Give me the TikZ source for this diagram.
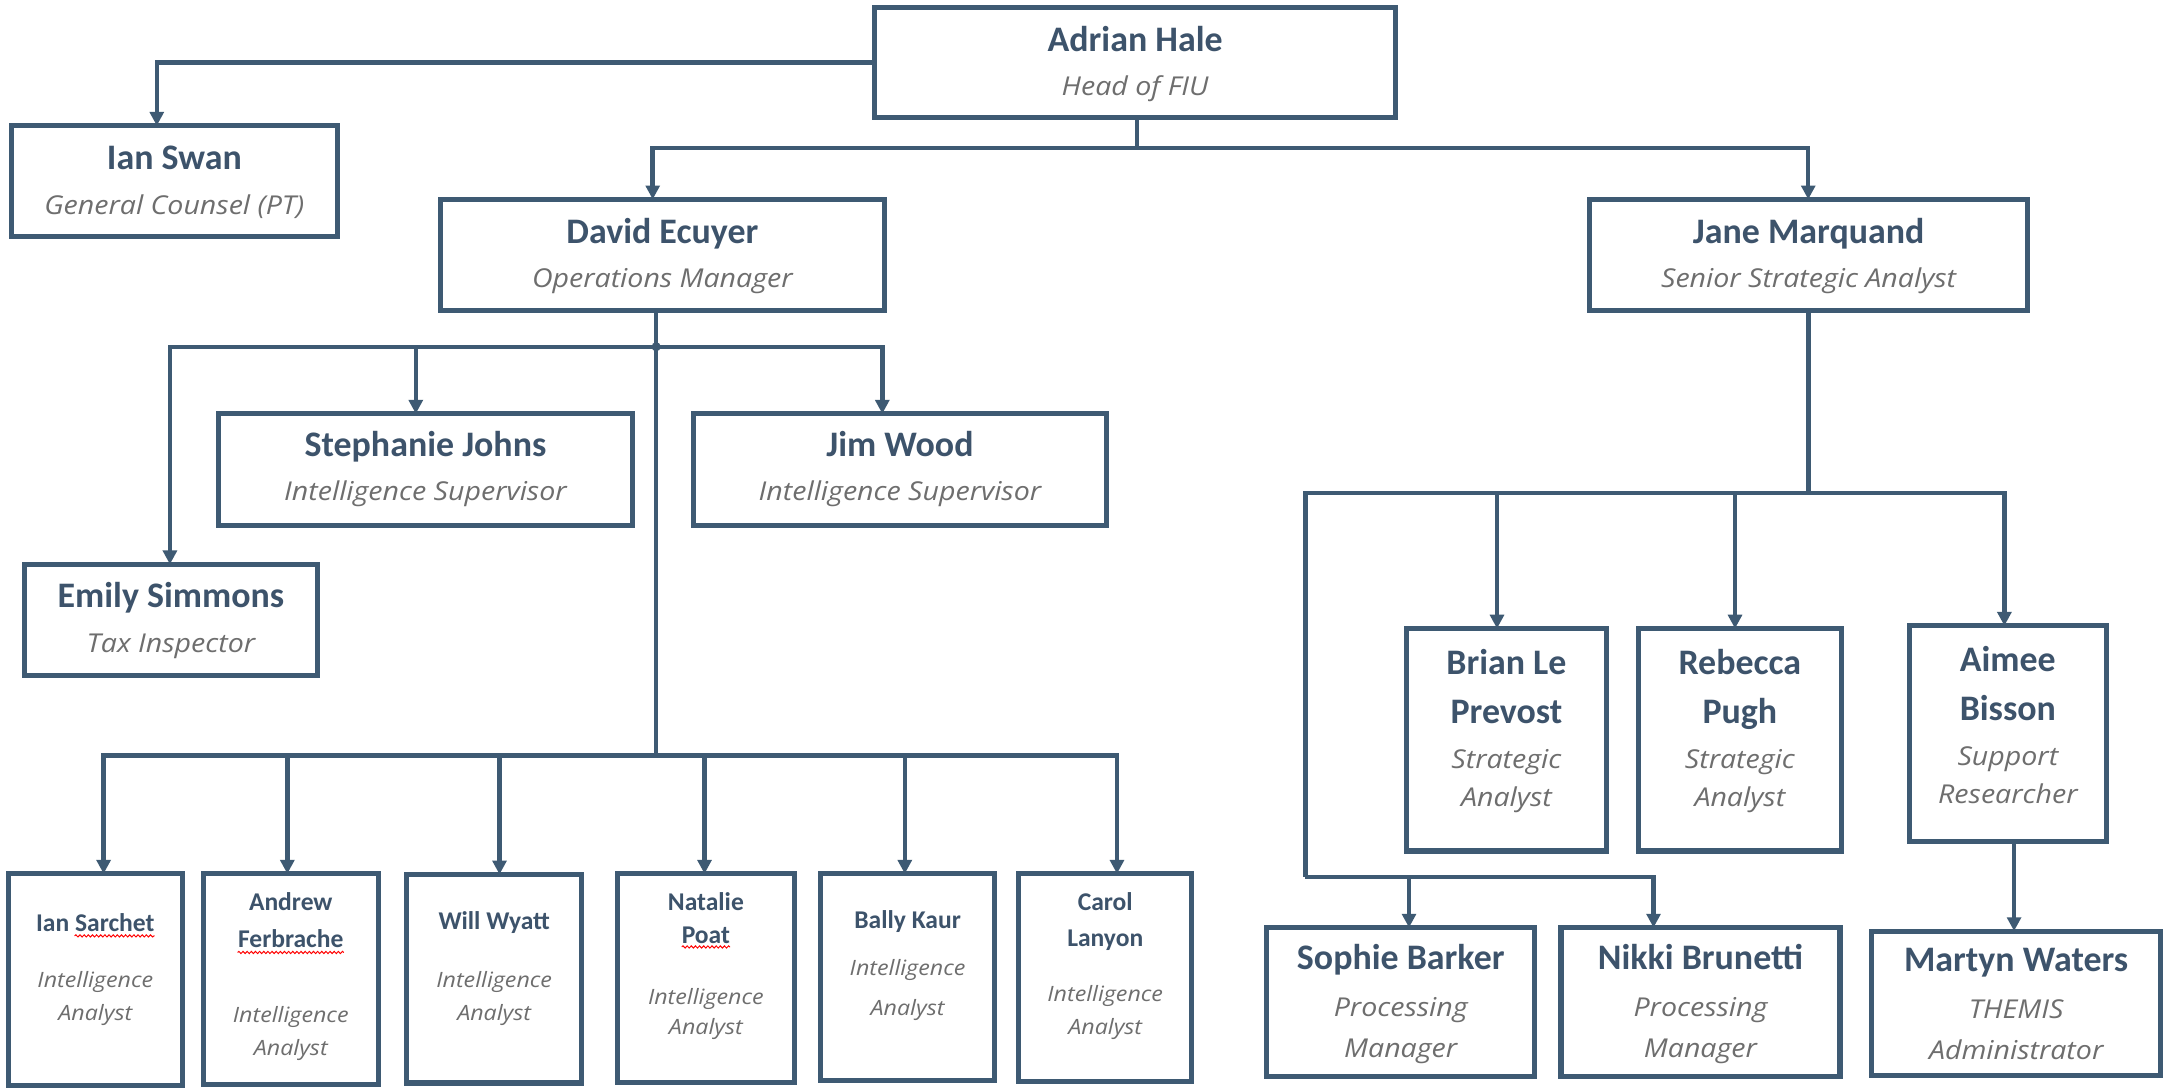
\documentclass[tikz,border=0pt]{standalone}
\usepackage{fontspec}
\usetikzlibrary{arrows.meta,decorations.pathmorphing}
\newfontfamily\nmfam{Carlito}
\newfontfamily\rlfam{Open Sans}[FakeStretch=1.1]
\definecolor{linec}{HTML}{3E5A73}
\definecolor{namec}{HTML}{3D536B}
\definecolor{rolec}{HTML}{6E6E6E}
\newcommand\nmB[1]{{\fontsize{26}{26}\selectfont\nmfam\bfseries\color{namec}#1}}
\newcommand\rlB[1]{{\fontsize{18.8}{18.8}\selectfont\rlfam\itshape\color{rolec}#1}}
\newcommand\nmS[1]{{\fontsize{18.5}{18.5}\selectfont\nmfam\bfseries\color{namec}#1}}
\newcommand\rlS[1]{{\fontsize{15.3}{15.3}\selectfont\rlfam\itshape\color{rolec}#1}}
\newcommand\stB{\rule{0pt}{24pt}}
\newcommand\stS{\rule{0pt}{17pt}}
\newcommand\obox[5]{\node[obox, minimum width={#4-#2}, minimum height={#5-#3}] (#1) at ({(#2+#4)/2},{(#3+#5)/2}) {};}
\tikzset{
  obox/.style={draw=linec, line width=3.7pt, fill=white, rectangle, inner sep=0pt, outer sep=0pt},
  conn/.style={draw=linec, line width=3.2pt},
  arr/.style={conn, -{Triangle[length=10pt,width=10pt]}},
  txt/.style={anchor=north, inner sep=0pt, outer sep=0pt, align=center},
  big/.style={txt, font=\fontsize{10}{32}\selectfont},
  tall/.style={txt, font=\fontsize{10}{28}\selectfont},
  mid/.style={txt, font=\fontsize{10}{29.5}\selectfont},
  small/.style={txt, font=\fontsize{10}{24}\selectfont},
  squig/.style={draw=red, line width=0.7pt, decorate, decoration={snake, amplitude=0.8pt, segment length=3pt}}
}
\begin{document}
\begin{tikzpicture}[x=1pt, y=-1pt]
\fill[white] (0,0) rectangle (1568,788);
\useasboundingbox (0,0) rectangle (1568,788);

% boxes
\obox{adrian}{633}{5.4}{1010.5}{85.3}
\obox{swan}{8.3}{91}{244}{171}
\obox{david}{319}{144.3}{640}{225}
\obox{jane}{1150.6}{144.3}{1468}{225}
\obox{steph}{158}{299.5}{458}{380.5}
\obox{jim}{502}{299.5}{801}{380.5}
\obox{emily}{17.5}{408.5}{230}{489}
\obox{brian}{1018}{455}{1163}{616}
\obox{rebecca}{1186}{455}{1333}{616}
\obox{aimee}{1382}{453}{1525}{609}
\obox{sarchet}{6}{632.5}{132}{785.5}
\obox{ferbrache}{147}{632.5}{274}{785}
\obox{wyatt}{294.5}{633}{421}{784}
\obox{poat}{447}{632.5}{575}{783.5}
\obox{kaur}{594}{632.5}{720}{782}
\obox{lanyon}{737.4}{632.5}{862.8}{783}
\obox{sophie}{917}{671.5}{1111}{779.5}
\obox{nikki}{1130}{671.5}{1332}{779.5}
\obox{martyn}{1355}{674}{1564}{778.5}

% texts
\node[big] (adrian-t) at (821.75,13.4) {\stB\nmB{Adrian Hale}\\\rlB{Head of FIU}};
\node[big] (swan-t) at (126.2,99) {\stB\nmB{Ian Swan}\\\rlB{General Counsel (PT)}};
\node[big] (david-t) at (479.5,152) {\stB\nmB{David Ecuyer}\\\rlB{Operations Manager}};
\node[big] (jane-t) at (1309.3,152) {\stB\nmB{Jane Marquand}\\\rlB{Senior Strategic Analyst}};
\node[big] (steph-t) at (308,306.6) {\stB\nmB{Stephanie Johns}\\\rlB{Intelligence Supervisor}};
\node[big] (jim-t) at (651.5,306.6) {\stB\nmB{Jim Wood}\\\rlB{Intelligence Supervisor}};
\node[big] (emily-t) at (123.75,416) {\stB\nmB{Emily Simmons}\\\rlB{Tax Inspector}};
\node[tall] (brian-t) at (1090.5,464) {\stB\nmB{Brian Le}\\[7.5pt]\nmB{Prevost}\\[4.5pt]\rlB{Strategic}\\\rlB{Analyst}};
\node[tall] (rebecca-t) at (1259.5,464) {\stB\nmB{Rebecca}\\[7.5pt]\nmB{Pugh}\\[4.5pt]\rlB{Strategic}\\\rlB{Analyst}};
\node[tall] (aimee-t) at (1453.5,462) {\stB\nmB{Aimee}\\[7.5pt]\nmB{Bisson}\\[4.5pt]\rlB{Support}\\\rlB{Researcher}};
\node[mid] (sophie-t) at (1014,678) {\stB\nmB{Sophie Barker}\\[4.5pt]\rlB{Processing}\\\rlB{Manager}};
\node[mid] (nikki-t) at (1231,678) {\stB\nmB{Nikki Brunetti}\\[4.5pt]\rlB{Processing}\\\rlB{Manager}};
\node[mid] (martyn-t) at (1459.5,679.6) {\stB\nmB{Martyn Waters}\\[4.5pt]\rlB{THEMIS}\\\rlB{Administrator}};
\node[small] (sarchet-t) at (69,657) {\stS\nmS{Ian Sarchet}\\[17pt]\rlS{Intelligence}\\\rlS{Analyst}};
\node[small] (ferbrache-t) at (210.5,642) {\stS\nmS{Andrew}\\[3pt]\nmS{Ferbrache}\\[30pt]\rlS{Intelligence}\\\rlS{Analyst}};
\node[small] (wyatt-t) at (357.75,656) {\stS\nmS{Will Wyatt}\\[18pt]\rlS{Intelligence}\\\rlS{Analyst}};
\node[small] (poat-t) at (511,642) {\stS\nmS{Natalie}\\\nmS{Poat}\\[20pt]\rlS{Intelligence}\\[-2pt]\rlS{Analyst}};
\node[small] (kaur-t) at (657,655) {\stS\nmS{Bally Kaur}\\[10pt]\rlS{Intelligence}\\[5pt]\rlS{Analyst}};
\node[small] (lanyon-t) at (800.1,642) {\stS\nmS{Carol}\\[2pt]\nmS{Lanyon}\\[16pt]\rlS{Intelligence}\\\rlS{Analyst}};

% spell-check squiggles
\draw[squig] (54,677.5) -- (112,677.5);
\draw[squig] (172,689.5) -- (249,689.5);
\draw[squig] (493.5,685.5) -- (528.5,685.5);

% connector coordinates
\coordinate (b1) at (823,107);
\coordinate (b2) at (475,251);
\coordinate (b3) at (475,547);
\coordinate (b4) at (1309.3,357);
\coordinate (b5) at (945,635);
\coordinate (xSwan) at (113.5,0);
\coordinate (xDav) at (472.5,0);
\coordinate (xJane) at (1309,0);
\coordinate (xEm) at (123,0);
\coordinate (xSt) at (301,0);
\coordinate (xJim) at (638.7,0);
\coordinate (xB1) at (75,0);
\coordinate (xB2) at (208,0);
\coordinate (xB3) at (361.6,0);
\coordinate (xB4) at (510,0);
\coordinate (xB5) at (655,0);
\coordinate (xB6) at (808.6,0);
\coordinate (xBr) at (1083.7,0);
\coordinate (xRe) at (1256,0);
\coordinate (xAi) at (1451,0);
\coordinate (xSo) at (1020,0);
\coordinate (xNi) at (1197,0);
\coordinate (xMa) at (1458,0);

% connectors
\draw[arr] (adrian.west) -| (xSwan |- swan.north);
\draw[conn] (b1 |- adrian.south) -- (b1);
\draw[arr] (b1) -| (xDav |- david.north);
\draw[arr] (b1) -| (xJane |- jane.north);

\draw[conn] (b2 |- david.south) -- (b3);
\draw[arr] (b2) -| (xEm |- emily.north);
\draw[arr] (b2) -| (xSt |- steph.north);
\draw[arr] (b2) -| (xJim |- jim.north);
\fill[linec] (b2) circle (3.3pt);

\draw[arr] (b3) -| (xB1 |- sarchet.north);
\draw[arr] (b3) -| (xB2 |- ferbrache.north);
\draw[arr] (b3) -| (xB3 |- wyatt.north);
\draw[arr] (b3) -| (xB4 |- poat.north);
\draw[arr] (b3) -| (xB5 |- kaur.north);
\draw[arr] (b3) -| (xB6 |- lanyon.north);

\draw[conn] (jane.south) -- (b4);
\draw[arr] (b4) -| (xBr |- brian.north);
\draw[arr] (b4) -| (xRe |- rebecca.north);
\draw[arr] (b4) -| (xAi |- aimee.north);
\draw[conn] (b4) -| (b5);
\draw[arr] (b5) -| (xSo |- sophie.north);
\draw[arr] (b5) -| (xNi |- nikki.north);
\draw[arr] (xMa |- aimee.south) -- (xMa |- martyn.north);
\end{tikzpicture}
\end{document}
